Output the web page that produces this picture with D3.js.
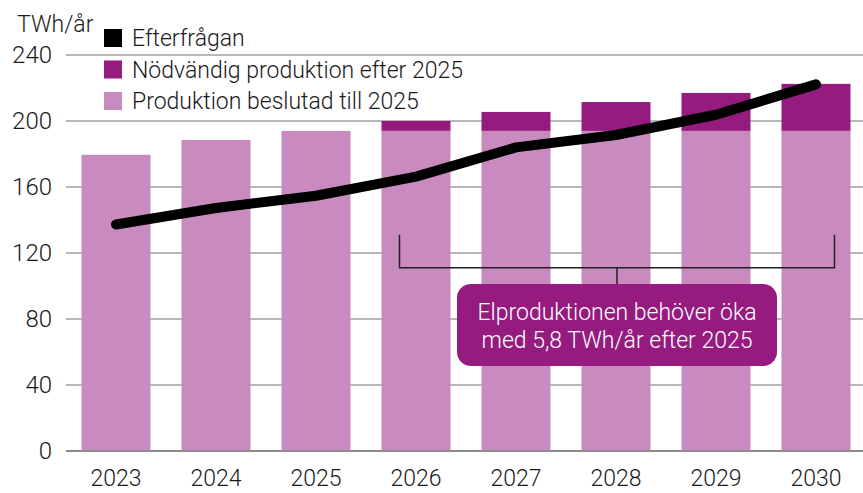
<!DOCTYPE html>
<html>
<head>
<meta charset="utf-8">
<script src="https://cdn.jsdelivr.net/npm/d3@7"></script>
<style>
  body { margin: 0; background: #fff; }
  svg { display: block; font-family: "Roboto", sans-serif; font-weight: 300; }
</style>
</head>
<body>
<div id="chart"></div>
<script>
// data
const years = ["2023", "2024", "2025", "2026", "2027", "2028", "2029", "2030"]
const decided = [179.5, 188.5, 194, 194, 194, 194, 194, 194]
const needed = [0, 0, 0, 6, 11.5, 17.5, 23, 28.5]
const demand = [137.3, 147.3, 154.7, 166.3, 184, 191.5, 203.8, 222.2]
const yTicks = [0, 40, 80, 120, 160, 200, 240]
const legendItems = ["Efterfrågan", "Nödvändig produktion efter 2025", "Produktion beslutad till 2025"]
const annotationLines = ["Elproduktionen behöver öka", "med 5,8 TWh/år efter 2025"]

const width = 863
const height = 493
const pink = "#c98bbf"
const purple = "#951b7f"

const svg = d3.select("#chart").append("svg")
	.attr("width", width)
	.attr("height", height)

const x = d3.scaleBand()
	.domain(years)
	.range([66, 866])
	.paddingInner(0.31)
	.paddingOuter(0.155)

const y = d3.scaleLinear()
	.domain([0, 240])
	.range([451, 55])

// gridlines
svg.append("g")
	.selectAll("line")
	.data(yTicks)
	.join("line")
		.attr("x1", 66)
		.attr("x2", width)
		.attr("y1", d => y(d))
		.attr("y2", d => y(d))
		.attr("stroke", d => d == 0 ? "#8c8c8c" : "#b8b8b8")
		.attr("stroke-width", 2)

// y axis labels
svg.append("g")
	.selectAll("text")
	.data(yTicks)
	.join("text")
		.attr("x", 52)
		.attr("y", d => y(d))
		.attr("dy", "0.35em")
		.attr("text-anchor", "end")
		.attr("font-size", 24)
		.attr("fill", "#1a1a1a")
		.text(d => d)

svg.append("text")
	.attr("x", 17)
	.attr("y", 32)
	.attr("font-size", 23)
	.attr("fill", "#1a1a1a")
	.text("TWh/år")

// bars
const rows = years.map((yr, i) => ({year: yr, decided: decided[i], needed: needed[i]}))

svg.append("g")
	.selectAll("rect")
	.data(rows)
	.join("rect")
		.attr("x", d => x(d.year))
		.attr("width", x.bandwidth())
		.attr("y", d => y(d.decided))
		.attr("height", d => y(0) - y(d.decided))
		.attr("fill", pink)

svg.append("g")
	.selectAll("rect")
	.data(rows.filter(d => d.needed > 0))
	.join("rect")
		.attr("x", d => x(d.year))
		.attr("width", x.bandwidth())
		.attr("y", d => y(d.decided + d.needed))
		.attr("height", d => y(d.decided) - y(d.decided + d.needed))
		.attr("fill", purple)

// baseline on top of bars
svg.append("line")
	.attr("x1", 66)
	.attr("x2", width)
	.attr("y1", y(0))
	.attr("y2", y(0))
	.attr("stroke", "#8c8c8c")
	.attr("stroke-width", 2)

// x labels
svg.append("g")
	.selectAll("text")
	.data(years)
	.join("text")
		.attr("x", d => x(d) + x.bandwidth() / 2)
		.attr("y", 486)
		.attr("text-anchor", "middle")
		.attr("font-size", 23)
		.attr("fill", "#1a1a1a")
		.text(d => d)

// demand line
const line = d3.line()
	.x((d, i) => x(years[i]) + x.bandwidth() / 2)
	.y(d => y(d))

svg.append("path")
	.datum(demand)
	.attr("d", line)
	.attr("fill", "none")
	.attr("stroke", "#000")
	.attr("stroke-width", 10)
	.attr("stroke-linecap", "round")
	.attr("stroke-linejoin", "round")

// bracket annotation
const bx1 = x("2026") + 18
const bx2 = x("2030") + x.bandwidth() - 16
const bmid = (bx1 + bx2) / 2
svg.append("path")
	.attr("d", `M${bx1},${y(131)}V${y(111)}H${bx2}V${y(131)}M${bmid},${y(111)}V${y(101)}`)
	.attr("fill", "none")
	.attr("stroke", "#222")
	.attr("stroke-width", 1.5)

svg.append("rect")
	.attr("x", bmid - 160)
	.attr("y", 284)
	.attr("width", 320)
	.attr("height", 82)
	.attr("rx", 14)
	.attr("fill", purple)

svg.append("g")
	.selectAll("text")
	.data(annotationLines)
	.join("text")
		.attr("x", bmid)
		.attr("y", (d, i) => 320 + i * 28)
		.attr("text-anchor", "middle")
		.attr("font-size", 23)
		.attr("fill", "#fff")
		.text(d => d)

// legend
const legend = svg.append("g")
	.selectAll("g")
	.data(legendItems)
	.join("g")
		.attr("transform", (d, i) => `translate(104,${29 + i * 31.5})`)

legend.append("rect")
	.attr("width", 18)
	.attr("height", 18)
	.attr("fill", (d, i) => ["#000", purple, pink][i])

legend.append("text")
	.attr("x", 28)
	.attr("y", 9)
	.attr("dy", "0.35em")
	.attr("font-size", 23)
	.attr("fill", "#1a1a1a")
	.text(d => d)
</script>
</body>
</html>
